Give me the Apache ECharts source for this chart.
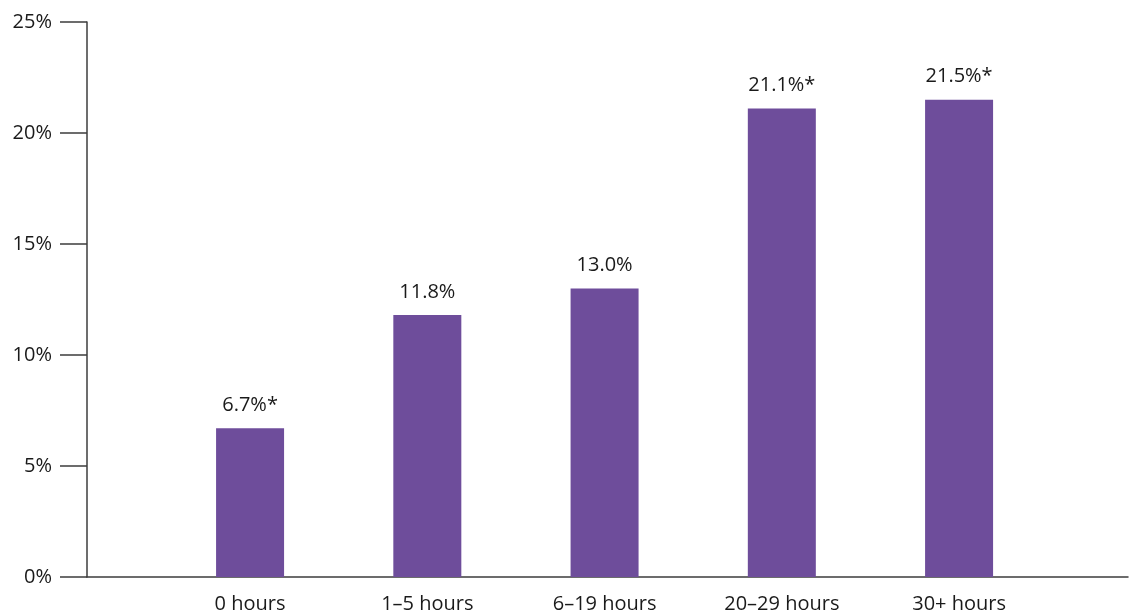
<!DOCTYPE html>
<html>
<head>
<meta charset="utf-8">
<title>Share by weekly hours</title>
<script src="https://cdn.jsdelivr.net/npm/echarts@6/dist/echarts.min.js"></script>
<style>
  html, body { margin: 0; padding: 0; background: #ffffff; }
  #chart { width: 1135px; height: 615px; }
</style>
</head>
<body>
<div id="chart"></div>
<script>
// Categories and values
const categories = ['0 hours', '1–5 hours', '6–19 hours', '20–29 hours', '30+ hours'];
const values = [6.7, 11.8, 13.0, 21.1, 21.5];
// Values marked with an asterisk
const starred = [true, false, false, true, true];
const yTicks = [0, 5, 10, 15, 20, 25];

const FONT = '"Open Sans", Lato, sans-serif';
const TEXT = '#1a1a1a';
const AXIS = '#3c3c3c';
const BAR = '#6e4d9b';

const positions = categories.map((_, i) => i);

const chart = echarts.init(document.getElementById('chart'), null, { renderer: 'canvas' });
chart.setOption({
  animation: false,
  backgroundColor: '#ffffff',
  grid: { left: 87, right: 7, top: 22, bottom: 38, containLabel: false },
  xAxis: {
    type: 'value',
    min: -0.92,
    max: 4.953,
    axisLine: { show: true, onZero: false, lineStyle: { color: AXIS, width: 1.5 } },
    axisTick: { show: false },
    splitLine: { show: false },
    axisLabel: {
      customValues: positions,
      formatter: v => categories[Math.round(v)] || '',
      color: TEXT,
      fontFamily: FONT,
      fontSize: 20,
      margin: 17
    }
  },
  yAxis: {
    type: 'value',
    min: yTicks[0],
    max: yTicks[yTicks.length - 1],
    interval: 5,
    axisLine: { show: true, onZero: false, lineStyle: { color: AXIS, width: 1.5 } },
    axisTick: { show: true, inside: false, length: 27, lineStyle: { color: AXIS, width: 1.5 } },
    splitLine: { show: false },
    axisLabel: {
      formatter: '{value}%',
      color: TEXT,
      fontFamily: FONT,
      fontSize: 20,
      margin: 35
    }
  },
  series: [{
    type: 'bar',
    barWidth: 68,
    itemStyle: { color: BAR },
    data: values.map((v, i) => [positions[i], v]),
    label: {
      show: true,
      position: 'top',
      distance: 13,
      color: TEXT,
      fontFamily: FONT,
      fontSize: 20,
      formatter: p => values[p.dataIndex].toFixed(1) + '%' + (starred[p.dataIndex] ? '*' : '')
    }
  }]
});
</script>
</body>
</html>
